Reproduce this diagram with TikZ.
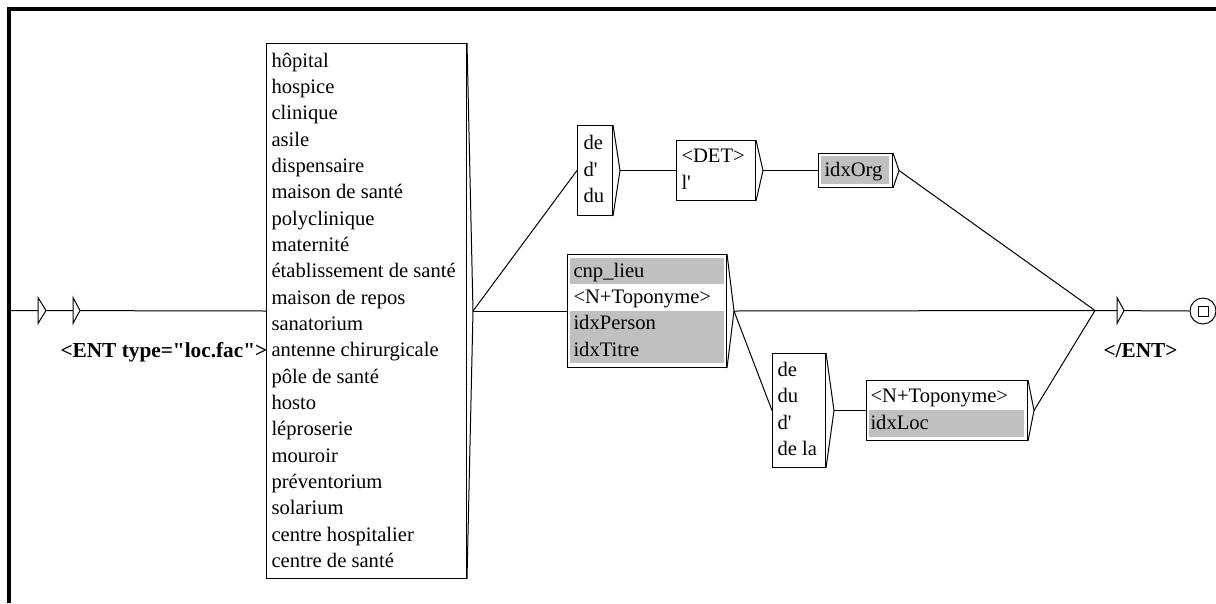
\documentclass[tikz,border=0pt]{standalone}
\usepackage{fontspec}
\setmainfont{Liberation Serif}
\usetikzlibrary{calc}
\definecolor{ugray}{RGB}{192,192,192}
\begin{document}
\begin{tikzpicture}[x=1pt,y=-1pt,line width=1pt,
  box/.style={draw,line width=1pt,inner sep=0pt,anchor=north west},
  txt/.style={anchor=base west,inner sep=0pt,font=\fontsize{20.6}{24}\selectfont},
  boldtxt/.style={anchor=base west,inner sep=0pt,font=\fontsize{21.3}{24}\selectfont\bfseries},
  band/.style={fill=ugray,draw=none},
  conn/.style={draw,line width=1pt},
  tri/.style={draw,fill=white,line width=1pt,line join=miter}]
\useasboundingbox (0,0) rectangle (1216,603);
% frame
\draw[line width=3.5pt,line join=miter] (9,603) -- (9,9) -- (1216,9);

% ---------- boxes ----------
\node[box,minimum width=200pt,minimum height=535pt] (big) at (266,43) {};
\node[box,minimum width=35pt,minimum height=90pt] (deb) at (577,125) {};
\node[box,minimum width=79pt,minimum height=60pt] (det) at (676,140) {};
\node[box,minimum width=74pt,minimum height=34pt] (org) at (818,153) {};
\node[box,minimum width=159pt,minimum height=113pt] (mid) at (567,254) {};
\node[box,minimum width=53pt,minimum height=114pt] (dd) at (772,353) {};
\node[box,minimum width=161pt,minimum height=60pt] (topo) at (866,380) {};

% gray bands
\fill[band] (821,156) rectangle (889,184);
\fill[band] (570,258) rectangle (724,284.3);
\fill[band] (570,310.5) rectangle (724,363);
\fill[band] (869,410) rectangle (1024,436.5);

% brackets (right side arrows) and their tips
\coordinate (bigT) at ($(big.east)+(6,0)$);
\coordinate (debT) at ($(deb.east)+(7,0)$);
\coordinate (detT) at ($(det.east)+(7,0)$);
\coordinate (orgT) at ($(org.east)+(6,0)$);
\coordinate (midT) at ($(mid.east)+(7,0)$);
\coordinate (ddT) at ($(dd.east)+(8,0)$);
\coordinate (topoT) at ($(topo.east)+(6,0)$);
\foreach \b in {big,deb,det,org,mid,dd,topo}
  \draw (\b.north east) -- (\b T) -- (\b.south east);

% ---------- texts ----------
\foreach \t [count=\i from 0] in {hôpital,hospice,clinique,asile,dispensaire,maison de santé,polyclinique,maternité,établissement de santé,maison de repos,sanatorium,antenne chirurgicale,pôle de santé,hosto,léproserie,mouroir,préventorium,solarium,centre hospitalier,centre de santé}
  \node[txt] (big\i) at (271,{67+\i*26.35}) {\t};

\node[txt] (deb1) at (583,149.7) {de};
\node[txt] (deb2) at (583,176) {d\textquotesingle};
\node[txt] (deb3) at (583,202.3) {du};

\node[txt] (det1) at (681,162.9) {<DET>};
\node[txt] (det2) at (681,189.2) {l\textquotesingle};

\node[txt] (org1) at (824,176) {idxOrg};

\node[txt] (mid1) at (573,277) {cnp\_lieu};
\node[txt] (mid2) at (573,303.3) {<N+Toponyme>};
\node[txt] (mid3) at (573,329.7) {idxPerson};
\node[txt] (mid4) at (573,356) {idxTitre};

\node[txt] (dd1) at (777,376.5) {de};
\node[txt] (dd2) at (777,402.8) {du};
\node[txt] (dd3) at (777,429.2) {d\textquotesingle};
\node[txt] (dd4) at (777,455.5) {de la};

\node[txt] (topo1) at (870,402.8) {<N+Toponyme>};
\node[txt] (topo2) at (870,429.2) {idxLoc};

\node[boldtxt] (entin) at (60,357) {<ENT type=\textquotedbl loc.fac\textquotedbl>};
\node[boldtxt] (entout) at (1103,357) {</ENT>};

% ---------- initial part ----------
\coordinate (start) at (9,310.5);
\draw[conn] (start) -- (big.west);
\draw[tri] (38,297.5) -- (46,310.5) -- (38,323.5) -- cycle;
\draw[tri] (73,297.5) -- (80,310.5) -- (73,323.5) -- cycle;

% ---------- connectors ----------
\coordinate (J) at (1095,310.5);
\draw[conn] (bigT) -- (deb.west);
\draw[conn] (bigT) -- (mid.west);
\draw[conn] (debT) -- (det.west);
\draw[conn] (detT) -- (org.west);
\draw[conn] (orgT) -- (J);
\draw[conn] (midT) -- (J);
\draw[conn] (midT) -- (dd.west);
\draw[conn] (ddT) -- (topo.west);
\draw[conn] (topoT) -- (J);

% ---------- final part ----------
\node[draw,circle,minimum size=26pt,inner sep=0pt,line width=1pt] (final) at (1203,311) {};
\draw (1198,306) rectangle (1208,316);
\coordinate (endtip) at (1124,310.5);
\draw[conn] (J) -- (final.west);
\draw[tri] (1117,297.5) -- (endtip) -- (1117,323.5) -- cycle;
\end{tikzpicture}
\end{document}
